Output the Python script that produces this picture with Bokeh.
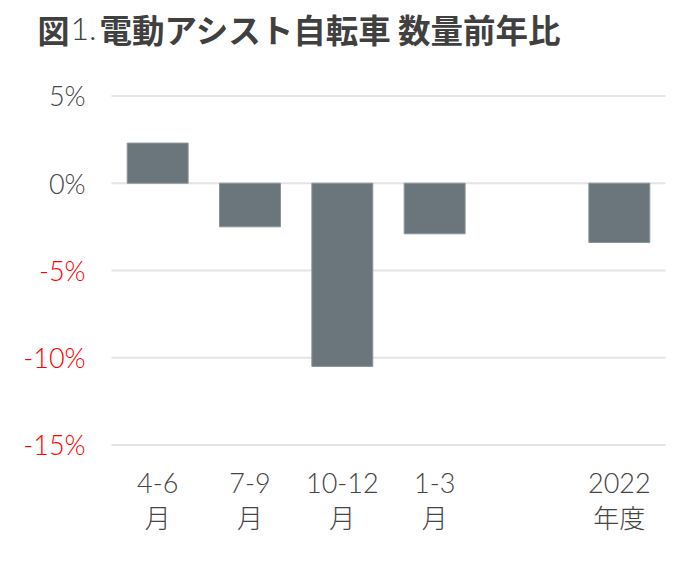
import math
from bokeh.plotting import figure
from bokeh.models import Range1d, Label
from bokeh.core.properties import value
from bokeh.embed import file_html
from bokeh.resources import INLINE

# ---- data ----
title_parts = ["図", "1.", "電動アシスト自転車 数量前年比"]
cat_top = ["4-6", "7-9", "10-12", "1-3", "", "2022"]
cat_bottom = ["月", "月", "月", "月", "", "年度"]
values = [2.3, -2.5, -10.5, -2.9, float("nan"), -3.4]
y_ticks = [5, 0, -5, -10, -15]
y_tick_labels = ["5%", "0%", "-5%", "-10%", "-15%"]

# ---- layout (pixel mapping) ----
W, H = 684, 548
px_per_x = 92.33
x0_px = 111
px_per_y = 17.45
y0_px = 182.7

x_start = (0 - x0_px) / px_per_x
x_end = (W - x0_px) / px_per_x
y_end = y0_px / px_per_y
y_start = (y0_px - H) / px_per_y

p = figure(width=W, height=H, output_backend="svg", toolbar_location=None,
           x_range=Range1d(x_start, x_end), y_range=Range1d(y_start, y_end),
           x_axis_location=None, y_axis_location=None, min_border=0,
           background_fill_color="white", border_fill_color="white")
p.outline_line_color = None
p.xgrid.visible = False
p.ygrid.visible = False

n = len(cat_top)
# gridlines
p.segment(x0=[0] * len(y_ticks), x1=[n] * len(y_ticks), y0=y_ticks, y1=y_ticks,
          line_color="#e4e4e4", line_width=2)

# bars
bx = [i + 0.5 for i, v in enumerate(values) if not math.isnan(v)]
bv = [v for v in values if not math.isnan(v)]
p.vbar(x=bx, top=bv, bottom=0, width=0.66, fill_color="#6b767c",
       line_color="#8a949a", line_width=1)

LIGHT = "Lato Light"
GRAY = "#454545"
# y labels
ycolors = [GRAY if t >= 0 else "#ff0000" for t in y_ticks]
p.text(x=[-0.28] * len(y_ticks), y=y_ticks, text=y_tick_labels,
       text_color=ycolors, text_font=value(LIGHT), text_font_size="27px",
       text_align="right", text_baseline="middle")

# x labels
xs = [i + 0.5 for i in range(n)]
p.text(x=xs, y=[-17.2] * n, text=cat_top, text_color=GRAY,
       text_font=value(LIGHT), text_font_size="27px",
       text_align="center", text_baseline="middle")
p.text(x=xs, y=[-19.1] * n, text=cat_bottom, text_color=GRAY,
       text_font=value("Noto Sans CJK JP Light"), text_font_size="26px",
       text_align="center", text_baseline="middle")

# title
ty = H - 28
p.add_layout(Label(x=37, y=ty, x_units="screen", y_units="screen",
                   text=title_parts[0], text_font="Noto Sans CJK JP",
                   text_font_style="bold", text_font_size="32px",
                   text_color="#404040", text_baseline="middle"))
p.add_layout(Label(x=70, y=ty, x_units="screen", y_units="screen",
                   text=title_parts[1], text_font=LIGHT,
                   text_font_size="32px",
                   text_color="#404040", text_baseline="middle"))
p.add_layout(Label(x=99, y=ty, x_units="screen", y_units="screen",
                   text=title_parts[2], text_font="Noto Sans CJK JP",
                   text_font_style="bold", text_font_size="32.5px",
                   text_color="#404040", text_baseline="middle"))

open("out.html", "w").write(file_html(p, INLINE))
